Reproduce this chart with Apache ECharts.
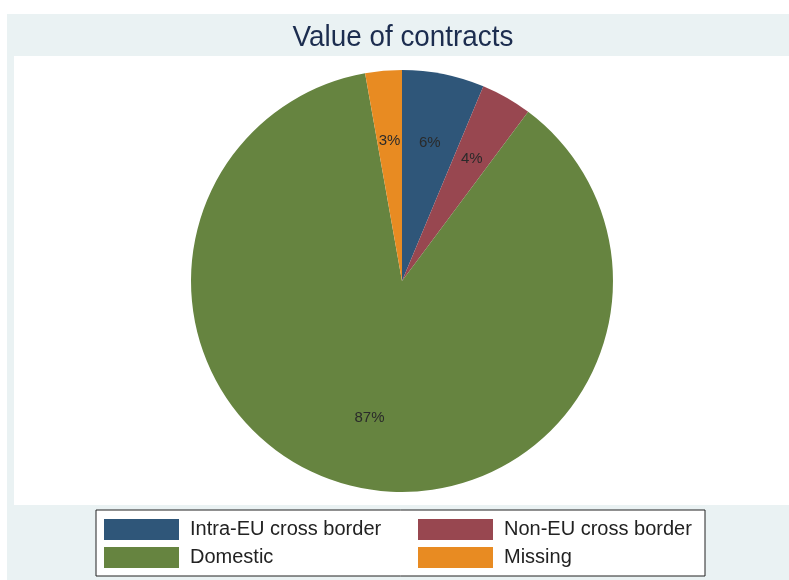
<!DOCTYPE html>
<html><head><meta charset="utf-8">
<script src="https://cdn.jsdelivr.net/npm/echarts@6/dist/echarts.min.js"></script>
<style>html,body{margin:0;padding:0;background:#fff}#c{width:789px;height:580px}</style>
</head><body><div id="c"></div>
<script>
const title = 'Value of contracts';
const categories = ['Intra-EU cross border', 'Non-EU cross border', 'Domestic', 'Missing'];
const values = [6.3, 3.9, 87.0, 2.8];
const labels = ['6%', '4%', '87%', '3%'];
const colors = ['#2f5679', '#984750', '#668440', '#e88b22'];

const data = categories.map((c, i) => ({name: c, value: values[i], itemStyle: {color: colors[i]}}));

const chart = echarts.init(document.getElementById('c'), null, {renderer: 'canvas'});
chart.setOption({
  animation: false,
  backgroundColor: '#ffffff',
  color: colors,
  graphic: [
    {type: 'rect', z: -10, shape: {x: 7, y: 14, width: 782, height: 566}, style: {fill: '#eaf2f3'}},
    {type: 'rect', z: -9, shape: {x: 14, y: 56, width: 775, height: 449}, style: {fill: '#ffffff'}},
    {type: 'rect', z: -8, shape: {x: 96, y: 510, width: 609, height: 66}, style: {fill: '#ffffff', stroke: '#222', lineWidth: 1}},
    {type: 'text', x: 403, y: 38, scaleX: 0.96, originX: 0, originY: 0,
     style: {text: title, fontFamily: 'Liberation Sans, Arial, sans-serif', fontSize: 29, fill: '#1c2d4f', align: 'center', verticalAlign: 'middle'}}
  ],
  legend: [
    {data: [categories[0], categories[2]], orient: 'vertical', left: 104, top: 519, itemWidth: 75, itemHeight: 21, itemGap: 7,
     icon: 'rect', selectedMode: false, padding: 0,
     textStyle: {fontFamily: 'Liberation Sans, Arial, sans-serif', fontSize: 20, color: '#222', padding: [2, 0, 0, 6]}},
    {data: [categories[1], categories[3]], orient: 'vertical', left: 418, top: 519, itemWidth: 75, itemHeight: 21, itemGap: 7,
     icon: 'rect', selectedMode: false, padding: 0,
     textStyle: {fontFamily: 'Liberation Sans, Arial, sans-serif', fontSize: 20, color: '#222', padding: [2, 0, 0, 6]}}
  ],
  series: [
    {type: 'pie', center: [402, 281], radius: 211, startAngle: 90, clockwise: true,
     label: {show: false}, labelLine: {show: false}, silent: true,
     itemStyle: {borderWidth: 0}, data: data},
    {type: 'pie', center: [402, 281], radius: 276, startAngle: 90, clockwise: true,
     silent: true, legendHoverLink: false,
     itemStyle: {color: 'rgba(0,0,0,0)', borderWidth: 0},
     label: {show: true, position: 'inside', formatter: p => labels[p.dataIndex],
             fontFamily: 'Liberation Sans, Arial, sans-serif', fontSize: 15, color: '#2a2a2a'},
     labelLine: {show: false},
     data: categories.map((c, i) => ({name: c + ' ', value: values[i]}))}
  ]
});
</script></body></html>
